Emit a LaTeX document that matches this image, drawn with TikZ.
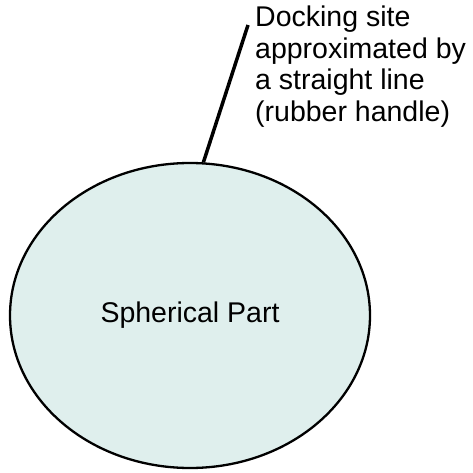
\documentclass[tikz,border=0pt]{standalone}
\usepackage{fontspec}
\setmainfont{Liberation Sans}
\usetikzlibrary{shapes.geometric}
\definecolor{partfill}{HTML}{DFEFED}
\tikzset{
  partshape/.style={ellipse, draw=black, line width=2.3pt, fill=partfill, inner sep=0pt,
    minimum width=360pt, minimum height=305pt, font=\fontsize{28.5}{32}\selectfont},
  labeltext/.style={align=left, inner sep=0pt, anchor=north west, font=\fontsize{28.5}{31.5}\selectfont},
  handle/.style={line width=3.5pt}
}
\begin{document}
\begin{tikzpicture}[x=1pt, y=-1pt]
\useasboundingbox (0,0) rectangle (472,473);
\node[partshape] (sp) at (190,315.5) {Spherical Part};
\coordinate (tip) at (248,25);
\draw[handle] (sp.85) -- (tip);
\node[labeltext] (lbl) at (255,6) {Docking site\\approximated by\\a straight line\\(rubber handle)};
\end{tikzpicture}
\end{document}
